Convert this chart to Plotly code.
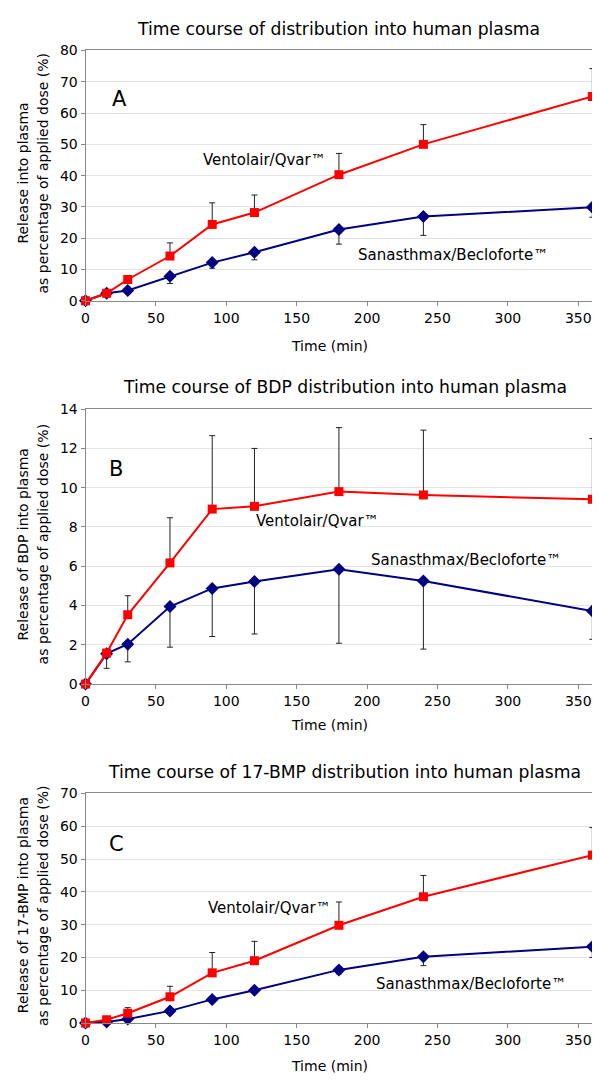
import plotly.graph_objects as go

# ---------------- data ----------------
time_min = [0, 15, 30, 60, 90, 120, 180, 240, 360]

# Panel A: total distribution
a_ventolair = [0, 2.4, 6.8, 14.3, 24.4, 28.2, 40.3, 50.0, 65.3]
a_ventolair_err = [0, 0, 0.7, 4.2, 6.9, 5.6, 6.8, 6.3, 8.9]
a_sanasthmax = [0, 2.4, 3.3, 7.8, 12.2, 15.5, 22.8, 26.9, 29.9]
a_sanasthmax_err = [0, 0, 0.3, 2.3, 1.8, 2.4, 4.7, 6.0, 3.2]

# Panel B: BDP
b_ventolair = [0, 1.58, 3.53, 6.17, 8.91, 9.05, 9.80, 9.63, 9.41]
b_ventolair_err = [0, 0, 0.97, 2.30, 3.74, 2.95, 3.26, 3.30, 3.09]
b_sanasthmax = [0, 1.55, 2.03, 3.95, 4.87, 5.22, 5.85, 5.25, 3.72]
b_sanasthmax_err = [0, 0.75, 0.90, 2.07, 2.45, 2.67, 3.77, 3.47, 1.44]

# Panel C: 17-BMP
c_ventolair = [0, 1.0, 3.0, 8.0, 15.3, 19.0, 29.8, 38.5, 51.2]
c_ventolair_err = [0, 0, 1.7, 3.2, 6.2, 5.9, 7.1, 6.5, 8.4]
c_sanasthmax = [0, 0.3, 1.2, 3.7, 7.2, 10.0, 16.2, 20.2, 23.3]
c_sanasthmax_err = [0, 0.3, 0, 0, 0.9, 0, 1.2, 2.7, 3.3]

panel_titles = [
    "Time course of distribution into human plasma",
    "Time course of BDP distribution into human plasma",
    "Time course of 17-BMP distribution into human plasma",
]
y_titles_line1 = [
    "Release into plasma",
    "Release of BDP into plasma",
    "Release of 17-BMP into plasma",
]
y_title_line2 = "as percentage of applied dose (%)"
panel_letters = ["A", "B", "C"]
x_title = "Time (min)"
series_names = ["Ventolair/Qvar™", "Sanasthmax/Becloforte™"]
x_ticks = [0, 50, 100, 150, 200, 250, 300, 350]
y_ranges = [[0, 80], [0, 14], [0, 70]]
y_dticks = [10, 2, 10]

# label positions (data coords)
vent_label_pos = [(127, 45), (165, 8.3), (131, 35)]
sana_label_pos = [(261, 14.6), (270, 6.33), (274, 12.0)]
letter_pos = [(24, 64.5), (22, 10.96), (22, 54.7)]

# ---------------- layout geometry ----------------
W, H = 600, 1092
x_dom = [74 / W, 597 / W]
y_px = [(35, 289), (399, 678), (789, 1022)]
title_xy_px = [(329, 13), (335, 377), (335, 767)]
xtitle_xy_px = [(320, 335), (320, 720), (320, 1066)]

FONT = "DejaVu Sans, Verdana, sans-serif"
RED = "#FF0000"
NAVY = "#000080"

fig = go.Figure()

data = [
    (a_ventolair, a_ventolair_err, a_sanasthmax, a_sanasthmax_err),
    (b_ventolair, b_ventolair_err, b_sanasthmax, b_sanasthmax_err),
    (c_ventolair, c_ventolair_err, c_sanasthmax, c_sanasthmax_err),
]

annotations = []
for i, (vv, ve, sv, se) in enumerate(data):
    sfx = "" if i == 0 else str(i + 1)
    xa, ya = "x" + sfx, "y" + sfx
    fig.add_trace(go.Scatter(
        x=time_min, y=sv, xaxis=xa, yaxis=ya, mode="lines+markers",
        name=series_names[1], cliponaxis=False,
        line=dict(color=NAVY, width=2),
        marker=dict(symbol="diamond", size=10, color=NAVY),
        error_y=dict(type="data", symmetric=False, array=[0] * len(se), arrayminus=se,
                     color="#222222", thickness=1, width=3),
        showlegend=False,
    ))
    fig.add_trace(go.Scatter(
        x=time_min, y=vv, xaxis=xa, yaxis=ya, mode="lines+markers",
        name=series_names[0], cliponaxis=False,
        line=dict(color=RED, width=2),
        marker=dict(symbol="square", size=9, color=RED),
        error_y=dict(type="data", symmetric=False, array=ve, arrayminus=[0] * len(ve),
                     color="#222222", thickness=1, width=3),
        showlegend=False,
    ))
    top, bot = y_px[i]
    y_dom = [1 - bot / H, 1 - top / H]
    fig.update_layout(**{
        "xaxis" + sfx: dict(
            domain=x_dom, range=[0, 369], anchor=ya, tickvals=x_ticks,
            showline=True, mirror=True, linecolor="#888888", linewidth=1,
            ticks="outside", ticklen=4, tickcolor="#888888",
            showgrid=False, zeroline=False,
            tickfont=dict(family=FONT, size=14, color="#000000"),
        ),
        "yaxis" + sfx: dict(
            domain=y_dom, range=y_ranges[i], anchor=xa, dtick=y_dticks[i],
            showline=True, mirror=True, linecolor="#888888", linewidth=1,
            ticks="outside", ticklen=4, tickcolor="#888888",
            showgrid=True, gridcolor="#E4E4E4", gridwidth=1, zeroline=False,
            tickfont=dict(family=FONT, size=14, color="#000000"),
        ),
    })
    # panel title
    annotations.append(dict(
        text=panel_titles[i], xref="paper", yref="paper",
        x=title_xy_px[i][0] / W, y=1 - title_xy_px[i][1] / H,
        xanchor="center", yanchor="middle", showarrow=False,
        font=dict(family=FONT, size=17.2, color="#000000"),
    ))
    # x title
    annotations.append(dict(
        text=x_title, xref="paper", yref="paper",
        x=xtitle_xy_px[i][0] / W, y=1 - xtitle_xy_px[i][1] / H,
        xanchor="center", yanchor="middle", showarrow=False,
        font=dict(family=FONT, size=14, color="#000000"),
    ))
    # y title (two lines)
    yc = 1 - ((top + bot) / 2 - 3) / H
    annotations.append(dict(
        text=y_titles_line1[i], xref="paper", yref="paper",
        x=11 / W, y=yc, textangle=-90,
        xanchor="center", yanchor="middle", showarrow=False,
        font=dict(family=FONT, size=14, color="#000000"),
    ))
    annotations.append(dict(
        text=y_title_line2, xref="paper", yref="paper",
        x=31 / W, y=yc, textangle=-90,
        xanchor="center", yanchor="middle", showarrow=False,
        font=dict(family=FONT, size=14, color="#000000"),
    ))
    # series labels
    annotations.append(dict(
        text=series_names[0], xref=xa, yref=ya,
        x=vent_label_pos[i][0], y=vent_label_pos[i][1],
        xanchor="center", yanchor="middle", showarrow=False,
        font=dict(family=FONT, size=15, color="#000000"),
    ))
    annotations.append(dict(
        text=series_names[1], xref=xa, yref=ya,
        x=sana_label_pos[i][0], y=sana_label_pos[i][1],
        xanchor="center", yanchor="middle", showarrow=False,
        font=dict(family=FONT, size=15, color="#000000"),
    ))
    # panel letter
    annotations.append(dict(
        text=panel_letters[i], xref=xa, yref=ya,
        x=letter_pos[i][0], y=letter_pos[i][1],
        xanchor="center", yanchor="middle", showarrow=False,
        font=dict(family=FONT, size=21, color="#000000"),
    ))

fig.update_layout(
    width=W, height=H,
    margin=dict(l=0, r=0, t=0, b=0),
    paper_bgcolor="white", plot_bgcolor="white",
    annotations=annotations,
)

fig.write_html("out.html")
